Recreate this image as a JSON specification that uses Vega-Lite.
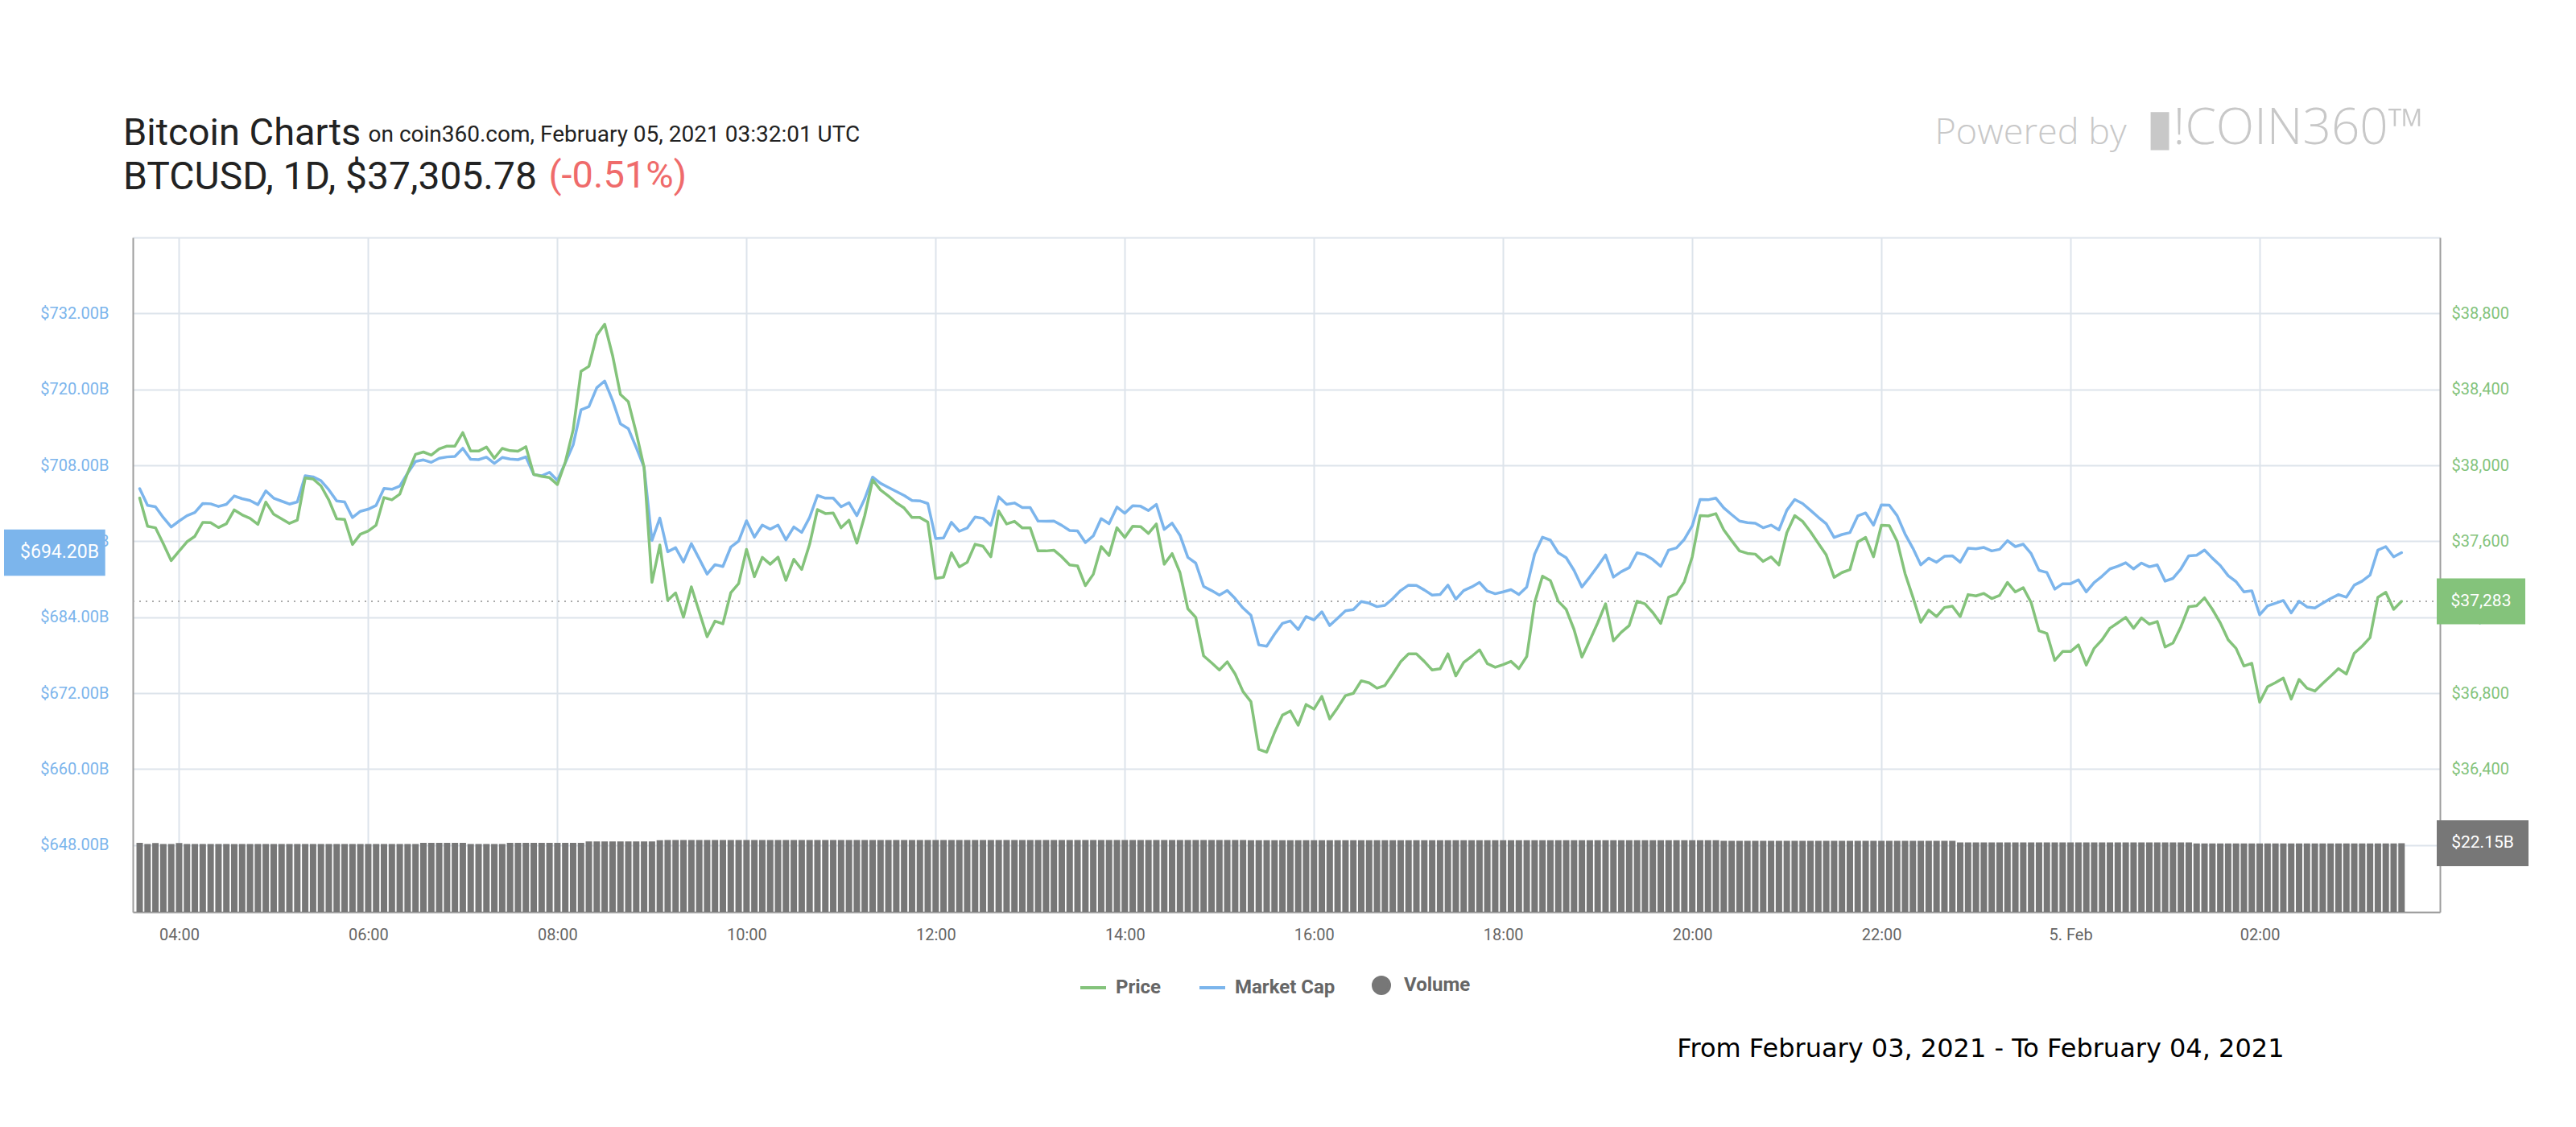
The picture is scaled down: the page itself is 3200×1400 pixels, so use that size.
{
  "$schema": "https://vega.github.io/schema/vega-lite/v6.json",
  "width": 2866,
  "height": 838,
  "autosize": {"type": "none"},
  "padding": {"left": 165, "top": 295, "right": 169, "bottom": 267},
  "background": "white",
  "config": {"view": {"stroke": null}, "font": "Roboto"},
  "title": {
    "text": "Bitcoin Charts",
    "subtitle": "BTCUSD, 1D, $37,305.78",
    "anchor": "start",
    "frame": "group",
    "dx": -12,
    "dy": 118,
    "offset": 0,
    "font": "Roboto",
    "fontSize": 47,
    "fontWeight": "normal",
    "color": "#222222",
    "subtitleFont": "Roboto",
    "subtitleFontSize": 48,
    "subtitleColor": "#222222",
    "subtitlePadding": 7
  },
  "data": {
    "values": [
      {"t":"2021-02-04T03:35:00Z","p":37827,"m":704.30,"v":22.3},
      {"t":"2021-02-04T03:40:00Z","p":37679,"m":701.66,"v":21.9},
      {"t":"2021-02-04T03:45:00Z","p":37671,"m":701.45,"v":22.2},
      {"t":"2021-02-04T03:50:00Z","p":37587,"m":699.74,"v":21.9},
      {"t":"2021-02-04T03:55:00Z","p":37498,"m":698.26,"v":21.9},
      {"t":"2021-02-04T04:00:00Z","p":37548,"m":699.19,"v":22.2},
      {"t":"2021-02-04T04:05:00Z","p":37597,"m":700.04,"v":21.9},
      {"t":"2021-02-04T04:10:00Z","p":37626,"m":700.55,"v":21.9},
      {"t":"2021-02-04T04:15:00Z","p":37699,"m":701.96,"v":21.9},
      {"t":"2021-02-04T04:20:00Z","p":37698,"m":701.91,"v":21.9},
      {"t":"2021-02-04T04:25:00Z","p":37672,"m":701.49,"v":21.9},
      {"t":"2021-02-04T04:30:00Z","p":37692,"m":701.83,"v":21.9},
      {"t":"2021-02-04T04:35:00Z","p":37765,"m":703.15,"v":21.9},
      {"t":"2021-02-04T04:40:00Z","p":37739,"m":702.72,"v":21.9},
      {"t":"2021-02-04T04:45:00Z","p":37721,"m":702.43,"v":21.9},
      {"t":"2021-02-04T04:50:00Z","p":37689,"m":701.79,"v":21.9},
      {"t":"2021-02-04T04:55:00Z","p":37806,"m":703.96,"v":21.9},
      {"t":"2021-02-04T05:00:00Z","p":37742,"m":702.81,"v":21.9},
      {"t":"2021-02-04T05:05:00Z","p":37718,"m":702.34,"v":21.9},
      {"t":"2021-02-04T05:10:00Z","p":37694,"m":701.87,"v":21.9},
      {"t":"2021-02-04T05:15:00Z","p":37711,"m":702.21,"v":21.9},
      {"t":"2021-02-04T05:20:00Z","p":37933,"m":706.34,"v":21.9},
      {"t":"2021-02-04T05:25:00Z","p":37928,"m":706.17,"v":21.9},
      {"t":"2021-02-04T05:30:00Z","p":37892,"m":705.57,"v":21.9},
      {"t":"2021-02-04T05:35:00Z","p":37817,"m":704.13,"v":21.9},
      {"t":"2021-02-04T05:40:00Z","p":37718,"m":702.38,"v":21.9},
      {"t":"2021-02-04T05:45:00Z","p":37715,"m":702.21,"v":21.9},
      {"t":"2021-02-04T05:50:00Z","p":37583,"m":699.74,"v":21.9},
      {"t":"2021-02-04T05:55:00Z","p":37637,"m":700.72,"v":21.9},
      {"t":"2021-02-04T06:00:00Z","p":37654,"m":701.06,"v":21.9},
      {"t":"2021-02-04T06:05:00Z","p":37685,"m":701.66,"v":21.9},
      {"t":"2021-02-04T06:10:00Z","p":37830,"m":704.34,"v":21.9},
      {"t":"2021-02-04T06:15:00Z","p":37818,"m":704.21,"v":21.9},
      {"t":"2021-02-04T06:20:00Z","p":37848,"m":704.72,"v":21.9},
      {"t":"2021-02-04T06:25:00Z","p":37959,"m":706.77,"v":21.9},
      {"t":"2021-02-04T06:30:00Z","p":38058,"m":708.60,"v":21.9},
      {"t":"2021-02-04T06:35:00Z","p":38070,"m":708.85,"v":22.3},
      {"t":"2021-02-04T06:40:00Z","p":38054,"m":708.47,"v":22.3},
      {"t":"2021-02-04T06:45:00Z","p":38086,"m":709.11,"v":22.3},
      {"t":"2021-02-04T06:50:00Z","p":38101,"m":709.32,"v":22.3},
      {"t":"2021-02-04T06:55:00Z","p":38101,"m":709.40,"v":22.3},
      {"t":"2021-02-04T07:00:00Z","p":38172,"m":710.68,"v":22.3},
      {"t":"2021-02-04T07:05:00Z","p":38075,"m":708.94,"v":21.9},
      {"t":"2021-02-04T07:10:00Z","p":38075,"m":708.89,"v":21.9},
      {"t":"2021-02-04T07:15:00Z","p":38096,"m":709.28,"v":21.9},
      {"t":"2021-02-04T07:20:00Z","p":38037,"m":708.30,"v":21.9},
      {"t":"2021-02-04T07:25:00Z","p":38089,"m":709.23,"v":21.9},
      {"t":"2021-02-04T07:30:00Z","p":38077,"m":708.98,"v":22.3},
      {"t":"2021-02-04T07:35:00Z","p":38074,"m":708.89,"v":22.3},
      {"t":"2021-02-04T07:40:00Z","p":38098,"m":709.32,"v":22.3},
      {"t":"2021-02-04T07:45:00Z","p":37952,"m":706.55,"v":22.3},
      {"t":"2021-02-04T07:50:00Z","p":37942,"m":706.34,"v":22.3},
      {"t":"2021-02-04T07:55:00Z","p":37935,"m":706.89,"v":22.3},
      {"t":"2021-02-04T08:00:00Z","p":37899,"m":705.62,"v":22.3},
      {"t":"2021-02-04T08:05:00Z","p":38016,"m":708.38,"v":22.3},
      {"t":"2021-02-04T08:10:00Z","p":38186,"m":711.23,"v":22.3},
      {"t":"2021-02-04T08:15:00Z","p":38495,"m":716.77,"v":22.3},
      {"t":"2021-02-04T08:20:00Z","p":38521,"m":717.28,"v":22.7},
      {"t":"2021-02-04T08:25:00Z","p":38685,"m":720.26,"v":22.7},
      {"t":"2021-02-04T08:30:00Z","p":38743,"m":721.32,"v":22.7},
      {"t":"2021-02-04T08:35:00Z","p":38579,"m":718.26,"v":22.7},
      {"t":"2021-02-04T08:40:00Z","p":38373,"m":714.55,"v":22.7},
      {"t":"2021-02-04T08:45:00Z","p":38335,"m":713.79,"v":22.7},
      {"t":"2021-02-04T08:50:00Z","p":38172,"m":710.81,"v":22.7},
      {"t":"2021-02-04T08:55:00Z","p":37990,"m":707.70,"v":22.7},
      {"t":"2021-02-04T09:00:00Z","p":37384,"m":696.13,"v":22.7},
      {"t":"2021-02-04T09:05:00Z","p":37580,"m":699.66,"v":23.1},
      {"t":"2021-02-04T09:10:00Z","p":37289,"m":694.34,"v":23.2},
      {"t":"2021-02-04T09:15:00Z","p":37328,"m":694.98,"v":23.2},
      {"t":"2021-02-04T09:20:00Z","p":37200,"m":692.72,"v":23.2},
      {"t":"2021-02-04T09:25:00Z","p":37360,"m":695.62,"v":23.2},
      {"t":"2021-02-04T09:30:00Z","p":37228,"m":693.23,"v":23.2},
      {"t":"2021-02-04T09:35:00Z","p":37097,"m":690.81,"v":23.2},
      {"t":"2021-02-04T09:40:00Z","p":37179,"m":692.30,"v":23.2},
      {"t":"2021-02-04T09:45:00Z","p":37165,"m":692.00,"v":23.2},
      {"t":"2021-02-04T09:50:00Z","p":37328,"m":695.06,"v":23.2},
      {"t":"2021-02-04T09:55:00Z","p":37377,"m":696.04,"v":23.2},
      {"t":"2021-02-04T10:00:00Z","p":37557,"m":699.23,"v":23.2},
      {"t":"2021-02-04T10:05:00Z","p":37413,"m":696.64,"v":23.2},
      {"t":"2021-02-04T10:10:00Z","p":37515,"m":698.55,"v":23.2},
      {"t":"2021-02-04T10:15:00Z","p":37479,"m":697.91,"v":23.2},
      {"t":"2021-02-04T10:20:00Z","p":37516,"m":698.55,"v":23.2},
      {"t":"2021-02-04T10:25:00Z","p":37394,"m":696.21,"v":23.2},
      {"t":"2021-02-04T10:30:00Z","p":37505,"m":698.26,"v":23.2},
      {"t":"2021-02-04T10:35:00Z","p":37451,"m":697.40,"v":23.2},
      {"t":"2021-02-04T10:40:00Z","p":37583,"m":699.74,"v":23.2},
      {"t":"2021-02-04T10:45:00Z","p":37767,"m":703.23,"v":23.2},
      {"t":"2021-02-04T10:50:00Z","p":37746,"m":702.81,"v":23.2},
      {"t":"2021-02-04T10:55:00Z","p":37749,"m":702.81,"v":23.2},
      {"t":"2021-02-04T11:00:00Z","p":37671,"m":701.45,"v":23.2},
      {"t":"2021-02-04T11:05:00Z","p":37711,"m":702.09,"v":23.2},
      {"t":"2021-02-04T11:10:00Z","p":37590,"m":700.04,"v":23.2},
      {"t":"2021-02-04T11:15:00Z","p":37735,"m":702.72,"v":23.2},
      {"t":"2021-02-04T11:20:00Z","p":37923,"m":706.13,"v":23.2},
      {"t":"2021-02-04T11:25:00Z","p":37870,"m":705.15,"v":23.2},
      {"t":"2021-02-04T11:30:00Z","p":37838,"m":704.51,"v":23.2},
      {"t":"2021-02-04T11:35:00Z","p":37803,"m":703.87,"v":23.2},
      {"t":"2021-02-04T11:40:00Z","p":37775,"m":703.23,"v":23.2},
      {"t":"2021-02-04T11:45:00Z","p":37725,"m":702.43,"v":23.2},
      {"t":"2021-02-04T11:50:00Z","p":37725,"m":702.38,"v":23.2},
      {"t":"2021-02-04T11:55:00Z","p":37701,"m":701.96,"v":23.2},
      {"t":"2021-02-04T12:00:00Z","p":37404,"m":696.43,"v":23.2},
      {"t":"2021-02-04T12:05:00Z","p":37411,"m":696.51,"v":23.2},
      {"t":"2021-02-04T12:10:00Z","p":37539,"m":698.98,"v":23.2},
      {"t":"2021-02-04T12:15:00Z","p":37465,"m":697.57,"v":23.2},
      {"t":"2021-02-04T12:20:00Z","p":37489,"m":698.09,"v":23.2},
      {"t":"2021-02-04T12:25:00Z","p":37584,"m":699.83,"v":23.2},
      {"t":"2021-02-04T12:30:00Z","p":37574,"m":699.62,"v":23.2},
      {"t":"2021-02-04T12:35:00Z","p":37518,"m":698.51,"v":23.2},
      {"t":"2021-02-04T12:40:00Z","p":37759,"m":703.02,"v":23.2},
      {"t":"2021-02-04T12:45:00Z","p":37691,"m":701.83,"v":23.2},
      {"t":"2021-02-04T12:50:00Z","p":37705,"m":702.04,"v":23.2},
      {"t":"2021-02-04T12:55:00Z","p":37670,"m":701.32,"v":23.2},
      {"t":"2021-02-04T13:00:00Z","p":37670,"m":701.32,"v":23.2},
      {"t":"2021-02-04T13:05:00Z","p":37549,"m":699.19,"v":23.2},
      {"t":"2021-02-04T13:10:00Z","p":37549,"m":699.15,"v":23.2},
      {"t":"2021-02-04T13:15:00Z","p":37553,"m":699.19,"v":23.2},
      {"t":"2021-02-04T13:20:00Z","p":37518,"m":698.51,"v":23.2},
      {"t":"2021-02-04T13:25:00Z","p":37475,"m":697.70,"v":23.2},
      {"t":"2021-02-04T13:30:00Z","p":37470,"m":697.62,"v":23.2},
      {"t":"2021-02-04T13:35:00Z","p":37366,"m":695.79,"v":23.2},
      {"t":"2021-02-04T13:40:00Z","p":37426,"m":696.85,"v":23.2},
      {"t":"2021-02-04T13:45:00Z","p":37572,"m":699.57,"v":23.2},
      {"t":"2021-02-04T13:50:00Z","p":37525,"m":698.77,"v":23.2},
      {"t":"2021-02-04T13:55:00Z","p":37671,"m":701.40,"v":23.2},
      {"t":"2021-02-04T14:00:00Z","p":37620,"m":700.43,"v":23.2},
      {"t":"2021-02-04T14:05:00Z","p":37679,"m":701.62,"v":23.2},
      {"t":"2021-02-04T14:10:00Z","p":37677,"m":701.53,"v":23.2},
      {"t":"2021-02-04T14:15:00Z","p":37641,"m":700.85,"v":23.2},
      {"t":"2021-02-04T14:20:00Z","p":37691,"m":701.83,"v":23.2},
      {"t":"2021-02-04T14:25:00Z","p":37479,"m":697.87,"v":23.2},
      {"t":"2021-02-04T14:30:00Z","p":37535,"m":698.85,"v":23.2},
      {"t":"2021-02-04T14:35:00Z","p":37435,"m":696.94,"v":23.2},
      {"t":"2021-02-04T14:40:00Z","p":37244,"m":693.45,"v":23.2},
      {"t":"2021-02-04T14:45:00Z","p":37199,"m":692.55,"v":23.2},
      {"t":"2021-02-04T14:50:00Z","p":36996,"m":688.85,"v":23.2},
      {"t":"2021-02-04T14:55:00Z","p":36960,"m":688.21,"v":23.2},
      {"t":"2021-02-04T15:00:00Z","p":36922,"m":687.49,"v":23.2},
      {"t":"2021-02-04T15:05:00Z","p":36965,"m":688.21,"v":23.2},
      {"t":"2021-02-04T15:10:00Z","p":36901,"m":686.94,"v":23.2},
      {"t":"2021-02-04T15:15:00Z","p":36808,"m":685.45,"v":23.2},
      {"t":"2021-02-04T15:20:00Z","p":36755,"m":684.30,"v":23.1},
      {"t":"2021-02-04T15:25:00Z","p":36504,"m":679.62,"v":23.1},
      {"t":"2021-02-04T15:30:00Z","p":36489,"m":679.40,"v":23.1},
      {"t":"2021-02-04T15:35:00Z","p":36593,"m":681.32,"v":23.1},
      {"t":"2021-02-04T15:40:00Z","p":36684,"m":683.02,"v":23.1},
      {"t":"2021-02-04T15:45:00Z","p":36706,"m":683.40,"v":23.1},
      {"t":"2021-02-04T15:50:00Z","p":36631,"m":682.04,"v":23.1},
      {"t":"2021-02-04T15:55:00Z","p":36740,"m":684.09,"v":23.1},
      {"t":"2021-02-04T16:00:00Z","p":36716,"m":683.57,"v":23.1},
      {"t":"2021-02-04T16:05:00Z","p":36783,"m":684.85,"v":23.1},
      {"t":"2021-02-04T16:10:00Z","p":36664,"m":682.68,"v":23.1},
      {"t":"2021-02-04T16:15:00Z","p":36723,"m":683.83,"v":23.1},
      {"t":"2021-02-04T16:20:00Z","p":36787,"m":685.02,"v":23.1},
      {"t":"2021-02-04T16:25:00Z","p":36799,"m":685.19,"v":23.1},
      {"t":"2021-02-04T16:30:00Z","p":36865,"m":686.47,"v":23.1},
      {"t":"2021-02-04T16:35:00Z","p":36854,"m":686.21,"v":23.1},
      {"t":"2021-02-04T16:40:00Z","p":36826,"m":685.66,"v":23.1},
      {"t":"2021-02-04T16:45:00Z","p":36840,"m":685.87,"v":23.1},
      {"t":"2021-02-04T16:50:00Z","p":36901,"m":686.94,"v":23.1},
      {"t":"2021-02-04T16:55:00Z","p":36965,"m":688.21,"v":23.1},
      {"t":"2021-02-04T17:00:00Z","p":37007,"m":689.06,"v":23.1},
      {"t":"2021-02-04T17:05:00Z","p":37007,"m":689.02,"v":23.1},
      {"t":"2021-02-04T17:10:00Z","p":36967,"m":688.30,"v":23.1},
      {"t":"2021-02-04T17:15:00Z","p":36922,"m":687.49,"v":23.1},
      {"t":"2021-02-04T17:20:00Z","p":36928,"m":687.57,"v":23.1},
      {"t":"2021-02-04T17:25:00Z","p":37007,"m":689.06,"v":23.1},
      {"t":"2021-02-04T17:30:00Z","p":36891,"m":686.85,"v":23.1},
      {"t":"2021-02-04T17:35:00Z","p":36962,"m":688.21,"v":23.1},
      {"t":"2021-02-04T17:40:00Z","p":36993,"m":688.77,"v":23.1},
      {"t":"2021-02-04T17:45:00Z","p":37028,"m":689.49,"v":23.1},
      {"t":"2021-02-04T17:50:00Z","p":36955,"m":688.13,"v":23.1},
      {"t":"2021-02-04T17:55:00Z","p":36936,"m":687.70,"v":23.1},
      {"t":"2021-02-04T18:00:00Z","p":36950,"m":688.00,"v":23.1},
      {"t":"2021-02-04T18:05:00Z","p":36967,"m":688.34,"v":23.1},
      {"t":"2021-02-04T18:10:00Z","p":36929,"m":687.57,"v":23.1},
      {"t":"2021-02-04T18:15:00Z","p":36993,"m":688.77,"v":23.1},
      {"t":"2021-02-04T18:20:00Z","p":37277,"m":693.96,"v":23.1},
      {"t":"2021-02-04T18:25:00Z","p":37416,"m":696.64,"v":23.1},
      {"t":"2021-02-04T18:30:00Z","p":37393,"m":696.17,"v":23.1},
      {"t":"2021-02-04T18:35:00Z","p":37284,"m":694.17,"v":23.1},
      {"t":"2021-02-04T18:40:00Z","p":37241,"m":693.40,"v":23.1},
      {"t":"2021-02-04T18:45:00Z","p":37135,"m":691.40,"v":23.1},
      {"t":"2021-02-04T18:50:00Z","p":36990,"m":688.77,"v":23.1},
      {"t":"2021-02-04T18:55:00Z","p":37078,"m":690.34,"v":23.1},
      {"t":"2021-02-04T19:00:00Z","p":37170,"m":692.04,"v":23.1},
      {"t":"2021-02-04T19:05:00Z","p":37270,"m":693.83,"v":23.1},
      {"t":"2021-02-04T19:10:00Z","p":37075,"m":690.34,"v":23.1},
      {"t":"2021-02-04T19:15:00Z","p":37121,"m":691.19,"v":23.1},
      {"t":"2021-02-04T19:20:00Z","p":37156,"m":691.83,"v":23.1},
      {"t":"2021-02-04T19:25:00Z","p":37284,"m":694.17,"v":23.1},
      {"t":"2021-02-04T19:30:00Z","p":37270,"m":693.87,"v":23.1},
      {"t":"2021-02-04T19:35:00Z","p":37224,"m":693.11,"v":23.1},
      {"t":"2021-02-04T19:40:00Z","p":37167,"m":692.04,"v":23.1},
      {"t":"2021-02-04T19:45:00Z","p":37305,"m":694.60,"v":23.1},
      {"t":"2021-02-04T19:50:00Z","p":37322,"m":694.94,"v":23.1},
      {"t":"2021-02-04T19:55:00Z","p":37387,"m":696.30,"v":23.1},
      {"t":"2021-02-04T20:00:00Z","p":37518,"m":698.43,"v":23.1},
      {"t":"2021-02-04T20:05:00Z","p":37735,"m":702.60,"v":23.1},
      {"t":"2021-02-04T20:10:00Z","p":37733,"m":702.55,"v":23.1},
      {"t":"2021-02-04T20:15:00Z","p":37745,"m":702.81,"v":23.1},
      {"t":"2021-02-04T20:20:00Z","p":37660,"m":701.28,"v":22.9},
      {"t":"2021-02-04T20:25:00Z","p":37603,"m":700.21,"v":22.9},
      {"t":"2021-02-04T20:30:00Z","p":37549,"m":699.19,"v":22.9},
      {"t":"2021-02-04T20:35:00Z","p":37536,"m":698.94,"v":22.9},
      {"t":"2021-02-04T20:40:00Z","p":37532,"m":698.85,"v":22.9},
      {"t":"2021-02-04T20:45:00Z","p":37494,"m":698.13,"v":22.9},
      {"t":"2021-02-04T20:50:00Z","p":37518,"m":698.55,"v":22.9},
      {"t":"2021-02-04T20:55:00Z","p":37475,"m":697.79,"v":22.9},
      {"t":"2021-02-04T21:00:00Z","p":37645,"m":700.89,"v":22.9},
      {"t":"2021-02-04T21:05:00Z","p":37735,"m":702.60,"v":22.9},
      {"t":"2021-02-04T21:10:00Z","p":37705,"m":701.96,"v":22.9},
      {"t":"2021-02-04T21:15:00Z","p":37650,"m":700.89,"v":22.9},
      {"t":"2021-02-04T21:20:00Z","p":37589,"m":699.79,"v":22.9},
      {"t":"2021-02-04T21:25:00Z","p":37528,"m":698.77,"v":22.9},
      {"t":"2021-02-04T21:30:00Z","p":37410,"m":696.60,"v":22.9},
      {"t":"2021-02-04T21:35:00Z","p":37435,"m":697.06,"v":22.9},
      {"t":"2021-02-04T21:40:00Z","p":37450,"m":697.36,"v":22.9},
      {"t":"2021-02-04T21:45:00Z","p":37596,"m":700.00,"v":22.9},
      {"t":"2021-02-04T21:50:00Z","p":37620,"m":700.47,"v":22.9},
      {"t":"2021-02-04T21:55:00Z","p":37518,"m":698.55,"v":22.9},
      {"t":"2021-02-04T22:00:00Z","p":37684,"m":701.74,"v":22.9},
      {"t":"2021-02-04T22:05:00Z","p":37682,"m":701.70,"v":22.9},
      {"t":"2021-02-04T22:10:00Z","p":37600,"m":700.04,"v":22.9},
      {"t":"2021-02-04T22:15:00Z","p":37430,"m":697.15,"v":22.9},
      {"t":"2021-02-04T22:20:00Z","p":37305,"m":694.89,"v":22.9},
      {"t":"2021-02-04T22:25:00Z","p":37173,"m":692.26,"v":22.9},
      {"t":"2021-02-04T22:30:00Z","p":37237,"m":693.32,"v":22.9},
      {"t":"2021-02-04T22:35:00Z","p":37203,"m":692.68,"v":22.9},
      {"t":"2021-02-04T22:40:00Z","p":37251,"m":693.62,"v":22.9},
      {"t":"2021-02-04T22:45:00Z","p":37258,"m":693.70,"v":22.9},
      {"t":"2021-02-04T22:50:00Z","p":37203,"m":692.68,"v":22.4},
      {"t":"2021-02-04T22:55:00Z","p":37319,"m":694.89,"v":22.4},
      {"t":"2021-02-04T23:00:00Z","p":37312,"m":694.81,"v":22.4},
      {"t":"2021-02-04T23:05:00Z","p":37325,"m":695.02,"v":22.4},
      {"t":"2021-02-04T23:10:00Z","p":37298,"m":694.47,"v":22.4},
      {"t":"2021-02-04T23:15:00Z","p":37315,"m":694.72,"v":22.4},
      {"t":"2021-02-04T23:20:00Z","p":37383,"m":696.09,"v":22.4},
      {"t":"2021-02-04T23:25:00Z","p":37333,"m":695.15,"v":22.4},
      {"t":"2021-02-04T23:30:00Z","p":37355,"m":695.53,"v":22.4},
      {"t":"2021-02-04T23:35:00Z","p":37277,"m":694.04,"v":22.4},
      {"t":"2021-02-04T23:40:00Z","p":37128,"m":691.40,"v":22.4},
      {"t":"2021-02-04T23:45:00Z","p":37114,"m":691.06,"v":22.4},
      {"t":"2021-02-04T23:50:00Z","p":36972,"m":688.43,"v":22.4},
      {"t":"2021-02-04T23:55:00Z","p":37019,"m":689.28,"v":22.4},
      {"t":"2021-02-05T00:00:00Z","p":37019,"m":689.28,"v":22.4},
      {"t":"2021-02-05T00:05:00Z","p":37054,"m":689.91,"v":22.4},
      {"t":"2021-02-05T00:10:00Z","p":36948,"m":688.00,"v":22.4},
      {"t":"2021-02-05T00:15:00Z","p":37036,"m":689.49,"v":22.4},
      {"t":"2021-02-05T00:20:00Z","p":37081,"m":690.47,"v":22.4},
      {"t":"2021-02-05T00:25:00Z","p":37142,"m":691.62,"v":22.4},
      {"t":"2021-02-05T00:30:00Z","p":37170,"m":692.04,"v":22.4},
      {"t":"2021-02-05T00:35:00Z","p":37199,"m":692.60,"v":22.4},
      {"t":"2021-02-05T00:40:00Z","p":37142,"m":691.62,"v":22.4},
      {"t":"2021-02-05T00:45:00Z","p":37196,"m":692.55,"v":22.4},
      {"t":"2021-02-05T00:50:00Z","p":37163,"m":691.96,"v":22.4},
      {"t":"2021-02-05T00:55:00Z","p":37177,"m":692.26,"v":22.4},
      {"t":"2021-02-05T01:00:00Z","p":37043,"m":689.70,"v":22.4},
      {"t":"2021-02-05T01:05:00Z","p":37064,"m":690.13,"v":22.4},
      {"t":"2021-02-05T01:10:00Z","p":37149,"m":691.62,"v":22.4},
      {"t":"2021-02-05T01:15:00Z","p":37255,"m":693.70,"v":22.4},
      {"t":"2021-02-05T01:20:00Z","p":37260,"m":693.79,"v":22.1},
      {"t":"2021-02-05T01:25:00Z","p":37302,"m":694.60,"v":22.1},
      {"t":"2021-02-05T01:30:00Z","p":37241,"m":693.32,"v":22.1},
      {"t":"2021-02-05T01:35:00Z","p":37170,"m":692.17,"v":22.1},
      {"t":"2021-02-05T01:40:00Z","p":37081,"m":690.55,"v":22.1},
      {"t":"2021-02-05T01:45:00Z","p":37036,"m":689.62,"v":22.1},
      {"t":"2021-02-05T01:50:00Z","p":36943,"m":688.00,"v":22.1},
      {"t":"2021-02-05T01:55:00Z","p":36957,"m":688.17,"v":22.1},
      {"t":"2021-02-05T02:00:00Z","p":36752,"m":684.38,"v":22.1},
      {"t":"2021-02-05T02:05:00Z","p":36834,"m":685.79,"v":22.1},
      {"t":"2021-02-05T02:10:00Z","p":36855,"m":686.21,"v":22.1},
      {"t":"2021-02-05T02:15:00Z","p":36879,"m":686.64,"v":22.1},
      {"t":"2021-02-05T02:20:00Z","p":36769,"m":684.68,"v":22.1},
      {"t":"2021-02-05T02:25:00Z","p":36872,"m":686.51,"v":22.1},
      {"t":"2021-02-05T02:30:00Z","p":36826,"m":685.62,"v":22.1},
      {"t":"2021-02-05T02:35:00Z","p":36811,"m":685.45,"v":22.1},
      {"t":"2021-02-05T02:40:00Z","p":36851,"m":686.21,"v":22.1},
      {"t":"2021-02-05T02:45:00Z","p":36889,"m":686.94,"v":22.1},
      {"t":"2021-02-05T02:50:00Z","p":36929,"m":687.57,"v":22.1},
      {"t":"2021-02-05T02:55:00Z","p":36901,"m":687.15,"v":22.1},
      {"t":"2021-02-05T03:00:00Z","p":37010,"m":689.06,"v":22.1},
      {"t":"2021-02-05T03:05:00Z","p":37047,"m":689.70,"v":22.1},
      {"t":"2021-02-05T03:10:00Z","p":37092,"m":690.64,"v":22.1},
      {"t":"2021-02-05T03:15:00Z","p":37305,"m":694.60,"v":22.1},
      {"t":"2021-02-05T03:20:00Z","p":37331,"m":695.15,"v":22.1},
      {"t":"2021-02-05T03:25:00Z","p":37241,"m":693.53,"v":22.1},
      {"t":"2021-02-05T03:30:00Z","p":37283,"m":694.20,"v":22.15}
    ]
  },
  "layer": [
    {
      "layer": [
        {
          "mark": {"type": "bar", "width": 8, "color": "#777777"},
          "encoding": {
            "x": {
              "field": "t",
              "type": "temporal",
              "scale": {
                "type": "utc",
                "domain": [
                  {"year": 2021, "month": 2, "date": 4, "hours": 3, "minutes": 33, "seconds": 12, "utc": true},
                  {"year": 2021, "month": 2, "date": 5, "hours": 3, "minutes": 51, "seconds": 49, "utc": true}
                ]
              },
              "axis": {
                "values": [
                  {"year": 2021, "month": 2, "date": 4, "hours": 4, "utc": true},
                  {"year": 2021, "month": 2, "date": 4, "hours": 6, "utc": true},
                  {"year": 2021, "month": 2, "date": 4, "hours": 8, "utc": true},
                  {"year": 2021, "month": 2, "date": 4, "hours": 10, "utc": true},
                  {"year": 2021, "month": 2, "date": 4, "hours": 12, "utc": true},
                  {"year": 2021, "month": 2, "date": 4, "hours": 14, "utc": true},
                  {"year": 2021, "month": 2, "date": 4, "hours": 16, "utc": true},
                  {"year": 2021, "month": 2, "date": 4, "hours": 18, "utc": true},
                  {"year": 2021, "month": 2, "date": 4, "hours": 20, "utc": true},
                  {"year": 2021, "month": 2, "date": 4, "hours": 22, "utc": true},
                  {"year": 2021, "month": 2, "date": 5, "hours": 0, "utc": true},
                  {"year": 2021, "month": 2, "date": 5, "hours": 2, "utc": true}
                ],
                "labelExpr": "utchours(datum.value) == 0 ? utcFormat(datum.value, '%-d. %b') : utcFormat(datum.value, '%H:%M')",
                "labelFont": "Roboto",
                "labelFontSize": 20,
                "labelColor": "#666666",
                "labelPadding": 18,
                "ticks": false,
                "grid": true,
                "gridColor": "#dde4eb",
                "gridWidth": 2,
                "domainColor": "#9e9e9e",
                "domainWidth": 2,
                "title": "From February 03, 2021 - To February 04, 2021",
                "titleFont": "DejaVu Sans",
                "titleFontSize": 32,
                "titleFontWeight": "normal",
                "titleColor": "#000000",
                "titleAlign": "right",
                "titleBaseline": "alphabetic",
                "titleX": 2672,
                "titleY": 179
              }
            },
            "y": {
              "field": "v",
              "type": "quantitative",
              "scale": {"domain": [0, 217], "nice": false},
              "axis": {
                "orient": "left",
                "labels": false,
                "ticks": false,
                "domain": false,
                "grid": false,
                "title": "Powered by",
                "titleAngle": 0,
                "titleAlign": "left",
                "titleBaseline": "alphabetic",
                "titleX": 2238,
                "titleY": -117,
                "titleFont": "Open Sans",
                "titleFontSize": 45,
                "titleFontWeight": 300,
                "titleColor": "#c8c8c8"
              }
            },
            "color": {
              "datum": "Volume",
              "type": "nominal",
              "scale": {
                "domain": ["Price", "Market Cap", "Volume"],
                "range": ["#84c37b", "#7cb5ec", "#777777"]
              },
              "legend": {
                "orient": "none",
                "legendX": 1175,
                "legendY": 911,
                "direction": "horizontal",
                "title": null,
                "labelFont": "Roboto",
                "labelFontSize": 24,
                "labelFontWeight": "bold",
                "labelColor": "#666666",
                "labelOffset": 10,
                "columnPadding": 39,
                "symbolType": "stroke",
                "symbolSize": 1024,
                "symbolStrokeWidth": 4,
                "encode": {
                  "symbols": {
                    "update": {
                      "shape": {"signal": "datum.value === 'Volume' ? 'circle' : 'stroke'"},
                      "size": {"signal": "datum.value === 'Volume' ? 400 : 1024"},
                      "fill": {"signal": "datum.value === 'Volume' ? '#777777' : 'transparent'"},
                      "stroke": {"signal": "datum.value === 'Price' ? '#84c37b' : datum.value === 'Market Cap' ? '#7cb5ec' : '#777777'"},
                      "strokeWidth": {"value": 4},
                      "opacity": {"value": 1}
                    }
                  }
                }
              }
            }
          }
        },
        {
          "data": {"values": [{"v": 22.15, "lbl": "$22.15B"}]},
          "mark": {"type": "point", "shape": "M0.1,-2.85H11.5V2.85H0.1Z", "size": 400, "filled": true, "opacity": 1, "color": "#777777"},
          "encoding": {
            "x": {"datum": {"year": 2021, "month": 2, "date": 5, "hours": 3, "minutes": 51, "seconds": 49, "utc": true}, "type": "temporal"},
            "y": {"field": "v", "type": "quantitative"}
          }
        },
        {
          "data": {"values": [{"v": 22.15, "lbl": "$22.15B"}]},
          "mark": {"type": "text", "dx": 58, "baseline": "middle", "align": "center", "font": "Roboto", "fontSize": 21, "color": "#ffffff"},
          "encoding": {
            "x": {"datum": {"year": 2021, "month": 2, "date": 5, "hours": 3, "minutes": 51, "seconds": 49, "utc": true}, "type": "temporal"},
            "y": {"field": "v", "type": "quantitative"},
            "text": {"field": "lbl"}
          }
        }
      ]
    },
    {
      "data": {"values": [{"p": 37283}]},
      "mark": {"type": "rule", "strokeDash": [2, 6], "color": "#aaaaaa", "strokeWidth": 2},
      "encoding": {
        "y": {
          "field": "p",
          "type": "quantitative",
          "scale": {"domain": [35646.7, 39200], "nice": false, "zero": false},
          "axis": {
            "orient": "right",
            "labels": false,
            "ticks": false,
            "domain": false,
            "grid": false,
            "title": "▮!COIN360™",
            "titleAngle": 0,
            "titleAlign": "left",
            "titleBaseline": "alphabetic",
            "titleX": -366,
            "titleY": -117,
            "titleFont": "Open Sans",
            "titleFontSize": 62,
            "titleFontWeight": 300,
            "titleColor": "#c8c8c8"
          }
        }
      }
    },
    {
      "layer": [
        {
          "mark": {"type": "line", "strokeWidth": 3.5, "strokeJoin": "round", "strokeCap": "round"},
          "encoding": {
            "x": {"field": "t", "type": "temporal"},
            "y": {
              "field": "m",
              "type": "quantitative",
              "scale": {"domain": [637.4, 744], "nice": false, "zero": false},
              "axis": {
                "orient": "left",
                "values": [648, 660, 672, 684, 696, 708, 720, 732, 744],
                "labelExpr": "datum.value >= 744 ? '' : '$' + format(datum.value, '.2f') + 'B'",
                "labelFont": "Roboto",
                "labelFontSize": 20,
                "labelColor": "#7cb5ec",
                "labelPadding": 30,
                "ticks": false,
                "grid": true,
                "gridColor": "#dde4eb",
                "gridWidth": 2,
                "domainColor": "#9e9e9e",
                "domainWidth": 2,
                "title": "on coin360.com, February 05, 2021 03:32:01 UTC",
                "titleAngle": 0,
                "titleAlign": "left",
                "titleBaseline": "alphabetic",
                "titleX": 292,
                "titleY": -120,
                "titleFont": "Roboto",
                "titleFontSize": 28,
                "titleFontWeight": "normal",
                "titleColor": "#222222"
              }
            },
            "color": {"datum": "Market Cap", "type": "nominal"}
          }
        },
        {
          "data": {"values": [{"m": 694.2, "lbl": "$694.20B"}]},
          "mark": {"type": "point", "shape": "M-16.5,-2.87H-3.93V2.87H-16.5Z", "size": 400, "filled": true, "opacity": 1, "color": "#7cb5ec"},
          "encoding": {
            "x": {"datum": {"year": 2021, "month": 2, "date": 4, "hours": 3, "minutes": 33, "seconds": 12, "utc": true}, "type": "temporal"},
            "y": {"field": "m", "type": "quantitative"}
          }
        },
        {
          "data": {"values": [{"m": 694.2, "lbl": "$694.20B"}]},
          "mark": {"type": "text", "dx": -96, "baseline": "middle", "align": "center", "font": "Roboto", "fontSize": 23, "color": "#ffffff"},
          "encoding": {
            "x": {"datum": {"year": 2021, "month": 2, "date": 4, "hours": 3, "minutes": 33, "seconds": 12, "utc": true}, "type": "temporal"},
            "y": {"field": "m", "type": "quantitative"},
            "text": {"field": "lbl"}
          }
        }
      ]
    },
    {
      "layer": [
        {
          "mark": {"type": "line", "strokeWidth": 3.5, "strokeJoin": "round", "strokeCap": "round"},
          "encoding": {
            "x": {"field": "t", "type": "temporal"},
            "y": {
              "field": "p",
              "type": "quantitative",
              "scale": {"domain": [35646.7, 39200], "nice": false, "zero": false},
              "axis": {
                "orient": "right",
                "values": [36000, 36400, 36800, 37200, 37600, 38000, 38400, 38800],
                "labelExpr": "'$' + format(datum.value, ',')",
                "labelFont": "Roboto",
                "labelFontSize": 20,
                "labelColor": "#84c37b",
                "labelPadding": 14,
                "ticks": false,
                "grid": false,
                "domainColor": "#9e9e9e",
                "domainWidth": 2,
                "title": "(-0.51%)",
                "titleAngle": 0,
                "titleAlign": "left",
                "titleBaseline": "alphabetic",
                "titleX": -2350,
                "titleY": -63,
                "titleFont": "Roboto",
                "titleFontSize": 47,
                "titleFontWeight": "normal",
                "titleColor": "#ef6b6b"
              }
            },
            "color": {"datum": "Price", "type": "nominal"}
          }
        },
        {
          "data": {"values": [{"p": 37283, "lbl": "$37,283"}]},
          "mark": {"type": "point", "shape": "M0.1,-2.85H11.1V2.85H0.1Z", "size": 400, "filled": true, "opacity": 1, "color": "#84c37b"},
          "encoding": {
            "x": {"datum": {"year": 2021, "month": 2, "date": 5, "hours": 3, "minutes": 51, "seconds": 49, "utc": true}, "type": "temporal"},
            "y": {"field": "p", "type": "quantitative"}
          }
        },
        {
          "data": {"values": [{"p": 37283, "lbl": "$37,283"}]},
          "mark": {"type": "text", "dx": 56, "baseline": "middle", "align": "center", "font": "Roboto", "fontSize": 21, "color": "#ffffff"},
          "encoding": {
            "x": {"datum": {"year": 2021, "month": 2, "date": 5, "hours": 3, "minutes": 51, "seconds": 49, "utc": true}, "type": "temporal"},
            "y": {"field": "p", "type": "quantitative"},
            "text": {"field": "lbl"}
          }
        }
      ]
    }
  ],
  "resolve": {"scale": {"y": "independent"}, "axis": {"y": "independent"}}
}
